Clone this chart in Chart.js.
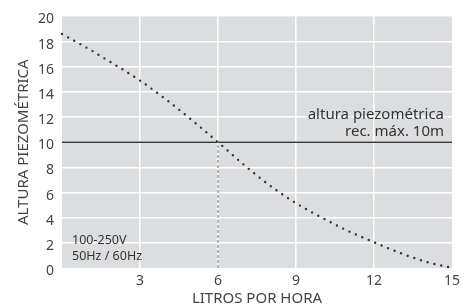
<!DOCTYPE html>
<html>
<head>
<meta charset="utf-8">
<script src="https://cdn.jsdelivr.net/npm/chart.js@4"></script>
<style>
  html, body { margin: 0; padding: 0; background: #fff; }
  #wrap { width: 465px; height: 308px; }
</style>
</head>
<body>
<div id="wrap"><canvas id="grafico"></canvas></div>
<script>
// Curva de la bomba: litros por hora contra altura piezométrica (m).
const litros = [0, 1, 2, 3, 4, 5, 6, 7, 8, 9, 10, 11, 12, 13, 14, 15];
const altura = [18.6, 17.45, 16.2, 14.9, 13.4, 11.75, 10.0, 8.2, 6.55, 5.15, 4.0, 2.95, 2.05, 1.2, 0.5, 0.0];

// Límite recomendado y punto de corte.
const limiteX = [0, 15];
const limiteY = [10, 10];
const corteX = [6, 6];
const corteY = [0, 10];

const ticksX = [3, 6, 9, 12, 15];
const ticksY = [0, 2, 4, 6, 8, 10, 12, 14, 16, 18, 20];

const notaLimite = ['altura piezométrica', 'rec. máx. 10m'];
const notaTension = ['100-250V', '50Hz / 60Hz'];

const FUENTE = '"Noto Sans", "Open Sans", sans-serif';
const GRIS_TEXTO = '#444';

const puntos = (xs, ys) => xs.map((x, i) => ({ x, y: ys[i] }));

// Fondo gris del área de trazado y notas de texto.
const fondoYNotas = {
    id: 'fondoYNotas',
    beforeDraw(chart) {
        const { ctx, chartArea: a } = chart;
        ctx.save();
        ctx.fillStyle = '#dcdddf';
        ctx.fillRect(a.left, a.top, a.right - a.left, a.bottom - a.top);
        ctx.restore();
    },
    afterDatasetsDraw(chart) {
        const { ctx, scales } = chart;
        const sx = scales.x;
        const sy = scales.y;
        ctx.save();
        ctx.fillStyle = '#333';
        ctx.font = '15px ' + FUENTE;
        ctx.textBaseline = 'middle';
        ctx.textAlign = 'right';
        ctx.fillText(notaLimite[0], sx.right - 8, sy.getPixelForValue(12.2));
        ctx.fillText(notaLimite[1], sx.right - 8, sy.getPixelForValue(10.85));
        ctx.font = '12.5px ' + FUENTE;
        ctx.textAlign = 'left';
        ctx.fillText(notaTension[0], sx.left + 10, sy.getPixelForValue(2.2));
        ctx.fillText(notaTension[1], sx.left + 10, sy.getPixelForValue(0.9));
        ctx.restore();
    },
};

const sinBordes = (min, max) => (c) =>
    c.tick && (c.tick.value === min || c.tick.value === max) ? 'rgba(0,0,0,0)' : '#ffffff';

new Chart(document.getElementById('grafico'), {
    type: 'line',
    data: {
        datasets: [
            {
                data: puntos(corteX, corteY),
                borderColor: '#8a8a8a',
                borderWidth: 1.2,
                borderDash: [3, 2],
                pointRadius: 0,
            },
            {
                data: puntos(limiteX, limiteY),
                borderColor: '#3a3a3a',
                borderWidth: 1.6,
                pointRadius: 0,
            },
            {
                data: puntos(litros, altura),
                borderColor: '#333',
                borderWidth: 2.4,
                borderDash: [0, 7],
                borderCapStyle: 'round',
                cubicInterpolationMode: 'monotone',
                pointRadius: 0,
                clip: false,
            },
        ],
    },
    options: {
        responsive: true,
        maintainAspectRatio: false,
        animation: false,
        layout: { padding: { top: 12, right: 13, left: 0, bottom: 0 } },
        plugins: { legend: { display: false }, tooltip: { enabled: false } },
        scales: {
            x: {
                type: 'linear',
                min: 0,
                max: 15,
                afterBuildTicks: (s) => { s.ticks = ticksX.map((v) => ({ value: v })); },
                afterFit: (s) => { s.height = 40; },
                grid: { color: sinBordes(0, 15), lineWidth: 1.5, drawTicks: false },
                border: { display: false },
                ticks: { color: GRIS_TEXTO, font: { family: FUENTE, size: 14 }, padding: 5 },
                title: {
                    display: true,
                    text: 'LITROS POR HORA',
                    color: GRIS_TEXTO,
                    font: { family: FUENTE, size: 15 },
                    padding: { top: 0, bottom: 0 },
                },
            },
            y: {
                min: 0,
                max: 20,
                afterBuildTicks: (s) => { s.ticks = ticksY.map((v) => ({ value: v })); },
                afterFit: (s) => { s.width = 62; },
                grid: { color: sinBordes(0, 20), lineWidth: 1.5, drawTicks: false },
                border: { display: false },
                ticks: { color: GRIS_TEXTO, font: { family: FUENTE, size: 14 }, padding: 8, labelOffset: 3 },
                title: {
                    display: true,
                    text: 'ALTURA PIEZOMÉTRICA',
                    color: GRIS_TEXTO,
                    font: { family: FUENTE, size: 15 },
                    padding: { top: 15, bottom: 4 },
                },
            },
        },
    },
    plugins: [fondoYNotas],
});
</script>
</body>
</html>
